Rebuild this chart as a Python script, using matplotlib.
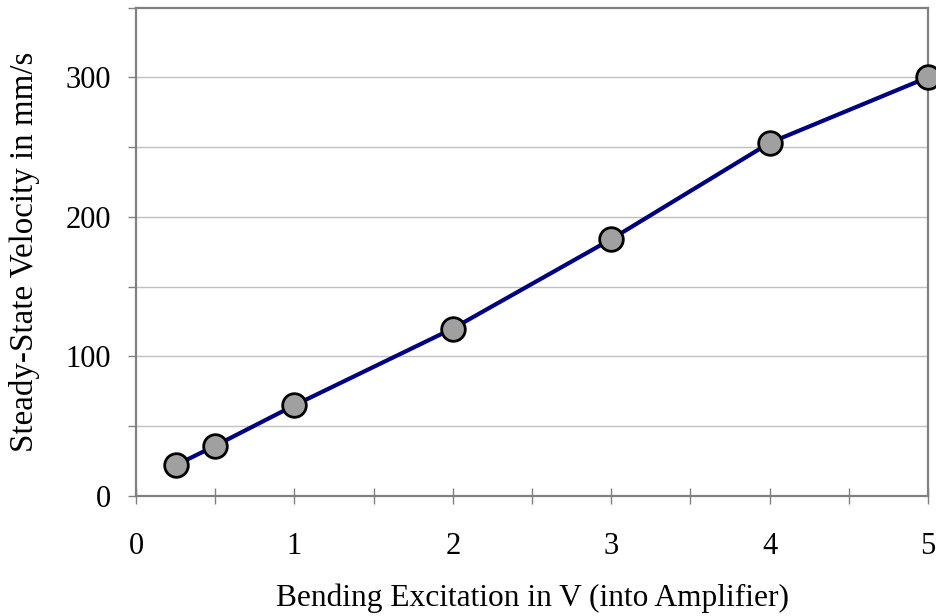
import matplotlib
matplotlib.use("Agg")
import matplotlib.pyplot as plt
from matplotlib.ticker import MultipleLocator

# Excitation voltage (V) and measured steady-state velocity (mm/s)
excitation_v = [0.25, 0.5, 1, 2, 3, 4, 5]
velocity_mm_s = [22, 36, 65, 120, 184, 253, 300]

x_tick_labels = ["0", "1", "2", "3", "4", "5"]
y_tick_labels = ["0", "100", "200", "300"]

plt.rcParams["font.family"] = ["Liberation Serif", "DejaVu Serif"]

fig = plt.figure(figsize=(9.36, 6.16), dpi=100)
ax = fig.add_axes([136 / 936, 1 - 496 / 616, (928 - 136) / 936, (496 - 7.5) / 616])

ax.plot(excitation_v, velocity_mm_s, color="#000080", linewidth=3.0,
        marker="o", markersize=17, markerfacecolor="#a0a0a0",
        markeredgecolor="black", markeredgewidth=2.0, clip_on=False, zorder=3)

ax.set_xlim(0, 5)
ax.set_ylim(0, 350)

ax.xaxis.set_minor_locator(MultipleLocator(0.5))
ax.yaxis.set_minor_locator(MultipleLocator(50))
ax.set_xticks(range(0, 6))
ax.set_xticklabels(x_tick_labels)
ax.set_yticks(range(0, 301, 100))
ax.set_yticklabels(y_tick_labels)

# Horizontal grid every 50
for v in range(50, 350, 50):
    ax.axhline(v, color="#c0c0c0", linewidth=1.0, zorder=0)

for side in ["left", "bottom", "right", "top"]:
    ax.spines[side].set_color("#808080")
    ax.spines[side].set_linewidth(1.6)

ax.tick_params(axis="both", which="both", direction="out", colors="#808080",
               length=6, width=1.0, labelcolor="black", labelsize=22)
ax.tick_params(axis="x", which="both", direction="inout", length=12, pad=20)
ax.tick_params(axis="y", which="both", pad=12)

ax.set_xlabel("Bending Excitation in V (into Amplifier)", fontsize=22.6, labelpad=16)
ax.set_ylabel("Steady-State Velocity in mm/s", fontsize=23.8, labelpad=18)

fig.savefig("out.png", dpi=100)
